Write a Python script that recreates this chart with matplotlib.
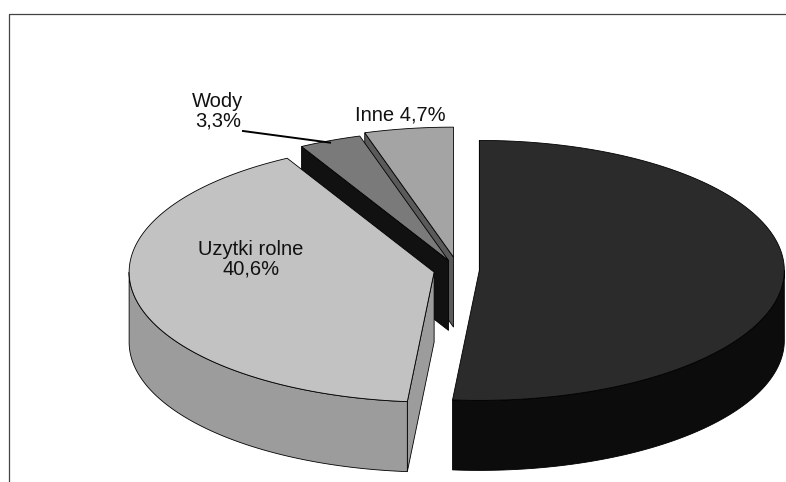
import numpy as np
import matplotlib.pyplot as plt
from matplotlib.patches import Polygon

# land use shares (%), clockwise from 12 o'clock
names = ['Lasy', 'Uzytki rolne', 'Wody', 'Inne']
values = [51.4, 40.6, 3.3, 4.7]
explode = [0.07, 0.08, 0.08, 0.1]

top_colors = ['#2b2b2b', '#c2c2c2', '#7a7a7a', '#a4a4a4']
side_colors = ['#0c0c0c', '#9c9c9c', '#111111', '#5a5a5a']

# geometry of the tilted pie (pixels)
CX, CY = 458, 270
RX, RY = 305, 130
DEPTH = 70

plt.rcParams['font.family'] = ['Liberation Sans', 'DejaVu Sans']


def rim(apex, t):
    return apex[0] + RX * np.sin(t), apex[1] - RY * np.cos(t)


def pct(v):
    return f"{v:.1f}".replace('.', ',') + '%'


def slice_geometry():
    total = sum(values)
    edges = np.concatenate([[0], np.cumsum(values)]) / total * 2 * np.pi
    out = []
    for i in range(len(values)):
        t1, t2 = edges[i], edges[i + 1]
        bis = (t1 + t2) / 2
        apex = (CX + explode[i] * RX * np.sin(bis), CY - explode[i] * RY * np.cos(bis))
        out.append((t1, t2, bis, apex))
    return out


def cross(a, b):
    return a[0] * b[1] - a[1] * b[0]


fig = plt.figure(figsize=(7.86, 4.82), dpi=100)
ax = fig.add_axes([0, 0, 1, 1])
ax.set_xlim(0, 786)
ax.set_ylim(482, 0)
ax.axis('off')

# frame of the scanned chart area
ax.plot([9, 9, 786], [482, 14, 14], color='#444444', lw=0.9)

geo = slice_geometry()
order = sorted(range(len(values)), key=lambda i: geo[i][3][1] - RY * np.cos(geo[i][2]))

# sides first (back to front)
for i in order:
    t1, t2, bis, apex = geo[i]
    # radial cut faces
    for t, sgn in ((t1, 1), (t2, -1)):
        rx_, ry_ = rim(apex, t)
        e = (rx_ - apex[0], ry_ - apex[1])
        inward = (sgn * RX * np.cos(t), sgn * RY * np.sin(t))
        if np.sign(cross(e, inward)) != np.sign(cross(e, (0, 1))):
            quad = [apex, (rx_, ry_), (rx_, ry_ + DEPTH), (apex[0], apex[1] + DEPTH)]
            ax.add_patch(Polygon(quad, closed=True, facecolor=side_colors[i],
                                 edgecolor='black', lw=0.6))
    # outer curved wall, only the front half is visible
    a, b = max(t1, np.pi / 2), min(t2, 3 * np.pi / 2)
    if b > a:
        ts = np.linspace(a, b, 80)
        xs, ys = rim(apex, ts)
        pts = list(zip(xs, ys)) + list(zip(xs[::-1], ys[::-1] + DEPTH))
        ax.add_patch(Polygon(pts, closed=True, facecolor=side_colors[i],
                             edgecolor='black', lw=0.6))

# top faces
for i in order:
    t1, t2, bis, apex = geo[i]
    ts = np.linspace(t1, t2, 120)
    xs, ys = rim(apex, ts)
    pts = [apex] + list(zip(xs, ys))
    ax.add_patch(Polygon(pts, closed=True, facecolor=top_colors[i],
                         edgecolor='black', lw=0.6))

# labels
fs = 14.5
ax.text(251, 259, f"{names[1]}\n{pct(values[1])}", ha='center', va='center',
        fontsize=fs, linespacing=1.05, color='#111111')
ax.text(400, 115, f"{names[3]} {pct(values[3])}", ha='center', va='center',
        fontsize=fs, color='#111111')
ax.text(218, 111, f"{names[2]}\n{pct(values[2])}", ha='center', va='center',
        fontsize=fs, linespacing=1.05, color='#111111')

# leader line for the small "Wody" slice
t1, t2, bis, apex = geo[2]
lx, ly = rim(apex, bis)
ax.plot([243, lx], [131, ly + 2], color='black', lw=1.4)

fig.savefig('out.png', dpi=100)
